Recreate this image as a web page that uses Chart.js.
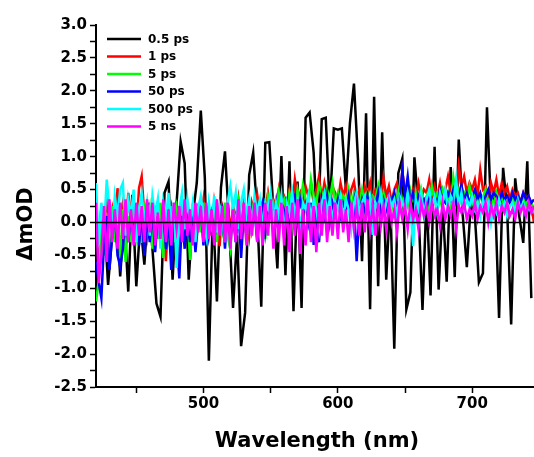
<!DOCTYPE html>
<html>
<head>
<meta charset="utf-8">
<title>Transient absorption spectra</title>
<script src="https://cdn.jsdelivr.net/npm/chart.js@4.4.1/dist/chart.umd.min.js"></script>
<style>
  html, body { margin: 0; padding: 0; background: #ffffff; }
  #wrap { width: 534px; height: 457px; }
</style>
</head>
<body>
<div id="wrap"><canvas id="myChartSpectra" width="534" height="457"></canvas></div>
<script>
"use strict";

// Probe wavelengths (nm) for the 0.5 ps trace
const wavelengths05 = [
  420, 423, 426, 429, 432, 435, 438, 441, 444, 447,
  450, 453, 456, 459, 462, 465, 468, 471, 474, 477,
  480, 483, 486, 489, 492, 495, 498, 501, 504, 507,
  510, 513, 516, 519, 522, 525, 528, 531, 534, 537,
  540, 543, 546, 549, 552, 555, 558, 561, 564, 567,
  570, 573, 576, 579, 582, 585, 588, 591, 594, 597,
  600, 603, 606, 609, 612, 615, 618, 621, 624, 627,
  630, 633, 636, 639, 642, 645, 648, 651, 654, 657,
  660, 663, 666, 669, 672, 675, 678, 681, 684, 687,
  690, 693, 696, 699, 702, 705, 708, 711, 714, 717,
  720, 723, 726, 729, 732, 735, 738, 741, 744
];

// Probe wavelengths (nm) for the later delays
const wavelengths = [
  420, 422, 424, 426, 428, 430, 432, 434, 436, 438,
  440, 442, 444, 446, 448, 450, 452, 454, 456, 458,
  460, 462, 464, 466, 468, 470, 472, 474, 476, 478,
  480, 482, 484, 486, 488, 490, 492, 494, 496, 498,
  500, 502, 504, 506, 508, 510, 512, 514, 516, 518,
  520, 522, 524, 526, 528, 530, 532, 534, 536, 538,
  540, 542, 544, 546, 548, 550, 552, 554, 556, 558,
  560, 562, 564, 566, 568, 570, 572, 574, 576, 578,
  580, 582, 584, 586, 588, 590, 592, 594, 596, 598,
  600, 602, 604, 606, 608, 610, 612, 614, 616, 618,
  620, 622, 624, 626, 628, 630, 632, 634, 636, 638,
  640, 642, 644, 646, 648, 650, 652, 654, 656, 658,
  660, 662, 664, 666, 668, 670, 672, 674, 676, 678,
  680, 682, 684, 686, 688, 690, 692, 694, 696, 698,
  700, 702, 704, 706, 708, 710, 712, 714, 716, 718,
  720, 722, 724, 726, 728, 730, 732, 734, 736, 738,
  740, 742, 744, 746
];

const delayLabels = [`0.5 ps`, `1 ps`, `5 ps`, `50 ps`, `500 ps`, `5 ns`];

// ΔmOD at each delay
const od05ps = [
  -0.3, -0.6, 0.1, -0.95, -0.2, 0.3, -0.82, 0.1, -1.05, 0.42,
  -0.97, 0.0, -0.64, 0.3, -0.4, -1.23, -1.43, 0.45, 0.62, -0.87,
  0.3, 1.23, 0.9, -0.87, 0.1, 0.6, 1.70, 0.68, -2.10, 0.2,
  -1.2, 0.53, 1.08, 0.0, -1.30, -0.2, -1.88, -1.37, 0.72, 1.06,
  0.1, -1.28, 1.21, 1.22, 0.2, -0.70, 1.01, -0.80, 0.93, -1.35,
  0.62, -1.30, 1.59, 1.67, 1.06, -0.3, 1.57, 1.59, 0.2, 1.43,
  1.41, 1.43, 0.5, 1.51, 2.11, 0.96, -0.59, 1.66, -1.32, 1.91,
  -0.97, 1.37, -0.87, 0.4, -1.92, 0.75, 0.97, -1.32, -1.06, 0.99,
  0.2, -1.33, 0.4, -1.11, 1.15, -1.02, 0.3, -0.90, 0.84, -0.83,
  1.26, 0.1, -0.68, 0.3, 0.1, -0.91, -0.77, 1.75, 0.2, 0.4,
  -1.45, 0.83, 0.2, -1.55, 0.67, 0.1, -0.31, 0.93, -1.15
];
const od1ps = [
  0.1, -0.3, 0.25, -0.1, 0.35, 0.0, 0.2, -0.25, 0.52, 0.1,
  0.3, -0.2, 0.45, 0.0, 0.3, -0.15, 0.52, 0.70, 0.1, -0.2,
  0.25, -0.3, 0.15, 0.3, -0.35, 0.2, -0.59, 0.1, 0.25, -0.2,
  0.32, -0.54, 0.15, -0.1, 0.3, 0.0, 0.25, -0.25, 0.2, 0.05,
  0.35, -0.1, 0.2, -0.2, 0.3, 0.0, -0.36, 0.25, 0.1, 0.3,
  -0.15, 0.25, 0.05, 0.35, -0.1, 0.3, 0.1, -0.2, 0.3, 0.15,
  0.42, 0.1, 0.3, 0.2, 0.45, 0.15, 0.35, 0.25, 0.5, 0.2,
  0.4, 0.3, 0.5, 0.25, 0.65, 0.35, 0.45, 0.2, 0.55, 0.4,
  0.57, 0.3, 0.5, 0.7, 0.35, 0.6, 0.4, 0.25, 0.55, 0.45,
  0.3, 0.6, 0.4, 0.55, 0.25, 0.5, 0.62, 0.35, 0.5, 0.3,
  0.55, 0.4, 0.6, 0.3, 0.5, 0.45, 0.25, 0.68, 0.4, 0.55,
  0.3, 0.5, 0.6, 0.35, 0.78, 0.45, 0.55, 0.3, 0.5, 0.4,
  0.6, 0.35, 0.5, 0.45, 0.65, 0.3, 0.55, 0.4, 0.6, 0.35,
  0.5, 0.7, 0.45, 0.6, 0.4, 0.86, 0.55, 0.7, 0.45, 0.6,
  0.5, 0.65, 0.4, 0.8, 0.5, 0.55, 0.35, 0.6, 0.45, 0.65,
  0.4, 0.6, 0.45, 0.55, 0.35, 0.5, 0.4, 0.45, 0.3, 0.45,
  0.35, 0.4, 0.25, 0.0
];
const od5ps = [
  -1.2, -0.9, 0.2, -0.5, 0.1, -0.4, 0.25, -0.3, 0.15, -0.55,
  0.2, -0.6, 0.1, -0.3, 0.25, -0.2, 0.15, -0.31, 0.3, -0.1,
  0.2, -0.4, 0.1, -0.25, 0.3, -0.54, 0.15, -0.2, 0.25, -0.3,
  0.2, -0.1, 0.3, -0.25, 0.15, -0.57, 0.1, -0.2, 0.25, -0.15,
  0.3, -0.2, 0.15, 0.0, 0.25, -0.3, 0.2, -0.1, 0.3, -0.2,
  -0.41, 0.2, 0.0, 0.3, -0.15, 0.25, -0.3, 0.2, 0.1, 0.35,
  -0.2, 0.3, 0.15, -0.25, 0.4, 0.2, 0.3, 0.05, 0.45, 0.25,
  0.35, 0.15, 0.45, 0.3, 0.2, 0.5, 0.3, 0.57, 0.35, 0.25,
  0.65, 0.4, 0.3, 0.57, 0.45, 0.25, 0.5, 0.35, 0.6, 0.3,
  0.45, 0.25, 0.4, 0.3, 0.5, 0.2, 0.45, 0.35, 0.25, 0.5,
  0.3, 0.45, 0.2, 0.4, 0.35, 0.55, 0.25, 0.45, 0.3, 0.4,
  0.2, 0.45, 0.35, 0.55, 0.3, 0.4, 0.25, 0.5, 0.35, 0.45,
  0.25, 0.5, 0.3, 0.4, 0.2, 0.55, 0.35, 0.45, 0.3, 0.5,
  0.35, 0.45, 0.25, 0.68, 0.4, 0.5, 0.3, 0.45, 0.35, 0.55,
  0.3, 0.45, 0.25, 0.4, 0.35, 0.5, 0.3, 0.4, 0.25, 0.45,
  0.3, 0.4, 0.22, 0.35, 0.3, 0.4, 0.25, 0.35, 0.3, 0.4,
  0.25, 0.35, 0.3, 0.2
];
const od50ps = [
  -0.6, -0.9, -1.15, -0.3, 0.1, -0.72, -0.2, 0.15, -0.5, -0.67,
  -0.41, 0.2, -0.3, 0.1, -0.2, 0.25, -0.35, 0.15, -0.5, 0.1,
  -0.3, 0.2, -0.45, 0.1, -0.25, 0.25, -0.4, 0.05, -0.72, 0.15,
  -0.2, -0.85, 0.1, -0.4, 0.2, -0.3, 0.15, -0.45, 0.0, 0.2,
  -0.35, 0.25, -0.2, 0.1, -0.3, 0.2, -0.1, 0.15, -0.4, 0.25,
  -0.25, 0.1, -0.3, 0.2, -0.54, 0.15, -0.2, 0.25, -0.1, 0.2,
  -0.29, 0.15, 0.3, -0.15, 0.2, 0.35, 0.0, 0.3, -0.1, 0.25,
  0.1, 0.3, -0.2, 0.25, 0.4, 0.05, 0.35, 0.15, 0.28, 0.0,
  0.3, -0.34, 0.2, -0.3, 0.35, 0.1, 0.4, 0.0, 0.3, 0.15,
  0.35, 0.1, 0.3, 0.2, 0.4, 0.05, 0.3, -0.59, 0.15, 0.35,
  0.2, 0.4, 0.1, 0.3, 0.25, 0.45, 0.15, 0.35, 0.2, 0.4,
  0.3, 0.45, 0.2, 0.35, 0.78, 0.4, 0.7, 0.3, 0.45, 0.25,
  0.4, 0.3, 0.35, 0.2, 0.45, 0.3, 0.4, 0.25, 0.5, 0.35,
  0.3, 0.45, 0.35, 0.5, 0.3, 0.4, 0.57, 0.35, 0.45, 0.3,
  0.4, 0.5, 0.35, 0.45, 0.3, 0.4, 0.5, 0.35, 0.45, 0.4,
  0.3, 0.45, 0.35, 0.4, 0.3, 0.45, 0.35, 0.4, 0.3, 0.45,
  0.35, 0.4, 0.3, 0.35
];
const od500ps = [
  0.6, -0.34, 0.3, -0.1, 0.65, 0.2, -0.2, 0.4, 0.1, 0.5,
  0.6, -0.2, 0.35, 0.1, 0.5, -0.3, 0.2, 0.45, 0.0, 0.3,
  -0.2, 0.4, 0.1, 0.35, -0.4, 0.3, 0.05, 0.45, -0.1, 0.3,
  -0.69, 0.2, 0.45, -0.1, 0.35, 0.0, 0.3, -0.3, 0.2, 0.4,
  0.1, -0.2, 0.3, 0.0, 0.4, -0.15, 0.25, 0.1, -0.3, 0.3,
  0.55, 0.2, 0.45, -0.1, 0.3, 0.5, 0.1, 0.35, -0.2, 0.4,
  0.15, 0.35, -0.1, 0.3, 0.2, 0.45, 0.0, 0.3, 0.1, 0.4,
  -0.2, 0.3, 0.15, 0.45, 0.1, 0.35, -0.15, 0.3, 0.2, 0.4,
  0.05, 0.35, 0.2, -0.1, 0.3, 0.45, 0.15, 0.35, 0.0, 0.3,
  0.2, 0.4, 0.05, 0.35, 0.2, -0.1, 0.3, 0.45, 0.15, 0.3,
  0.4, 0.1, 0.35, -0.19, 0.3, 0.2, 0.45, 0.1, 0.3, 0.4,
  0.25, 0.35, 0.1, 0.4, 0.3, 0.2, 0.45, 0.25, -0.36, 0.35,
  0.2, 0.45, 0.1, 0.35, 0.5, 0.25, 0.4, 0.15, 0.45, 0.3,
  0.5, 0.2, 0.4, 0.3, 0.65, 0.25, 0.45, 0.2, 0.35, 0.25,
  0.4, 0.2, 0.3, 0.1, 0.35, 0.2, 0.3, 0.0, 0.25, 0.15,
  0.35, 0.2, 0.3, 0.1, 0.25, 0.3, 0.15, 0.35, 0.2, 0.3,
  0.1, 0.25, 0.15, 0.2
];
const od5ns = [
  0.3, -0.92, -0.5, 0.25, -0.6, 0.35, -0.3, 0.2, -0.4, 0.3,
  -0.25, 0.35, -0.3, 0.2, -0.35, 0.3, -0.2, 0.25, -0.3, 0.35,
  -0.15, 0.3, -0.35, 0.15, -0.25, 0.35, -0.3, 0.2, -0.35, 0.3,
  -0.1, 0.25, -0.3, 0.35, -0.2, 0.2, -0.35, 0.3, -0.15, 0.25,
  -0.3, 0.3, -0.25, 0.2, -0.35, 0.35, -0.2, 0.25, -0.3, 0.3,
  -0.4, 0.2, -0.3, 0.35, -0.25, 0.3, -0.35, 0.25, -0.2, 0.3,
  -0.3, 0.25, -0.35, 0.3, -0.2, 0.35, -0.4, 0.2, -0.3, 0.3,
  -0.35, 0.25, -0.45, 0.3, -0.2, 0.35, -0.48, 0.2, -0.35, 0.3,
  -0.3, 0.25, -0.45, 0.3, -0.2, 0.35, -0.3, 0.25, -0.2, 0.3,
  -0.25, 0.35, -0.15, 0.2, -0.3, 0.3, -0.1, 0.25, -0.2, 0.3,
  -0.15, 0.35, -0.1, 0.25, -0.2, 0.3, -0.05, 0.25, -0.1, 0.3,
  0.0, 0.2, -0.15, 0.3, 0.05, 0.25, -0.1, 0.3, 0.05, 0.2,
  -0.1, 0.3, 0.1, 0.25, 0.0, 0.3, 0.1, 0.2, -0.05, 0.3,
  0.05, 0.25, 0.1, 0.3, -0.1, 0.25, 0.15, 0.3, 0.05, 0.2,
  0.1, 0.3, 0.05, 0.25, 0.15, 0.3, 0.0, 0.25, 0.1, 0.3,
  0.05, 0.25, 0.15, 0.3, 0.1, 0.2, 0.05, 0.3, 0.15, 0.25,
  0.1, 0.3, 0.15, 0.25
];

// Axis ticks
const xTickValues = [450, 500, 550, 600, 650, 700];
const xTickLabels = [``, `500`, ``, `600`, ``, `700`];
const yTickValues = [-2.5, -2.25, -2, -1.75, -1.5, -1.25, -1, -0.75, -0.5, -0.25, 0,
  0.25, 0.5, 0.75, 1, 1.25, 1.5, 1.75, 2, 2.25, 2.5, 2.75, 3];
const yTickLabels = [`-2.5`, ``, `-2.0`, ``, `-1.5`, ``, `-1.0`, ``, `-0.5`, ``, `0.0`,
  ``, `0.5`, ``, `1.0`, ``, `1.5`, ``, `2.0`, ``, `2.5`, ``, `3.0`];

const seriesValues = [od05ps, od1ps, od5ps, od50ps, od500ps, od5ns];
const seriesWavelengths = [wavelengths05, wavelengths, wavelengths, wavelengths, wavelengths, wavelengths];
const seriesColors = [`#000000`, `#FF0000`, `#00FF00`, `#0000FF`, `#00FFFF`, `#FF00FF`];

const fontFamily = `"DejaVu Sans", "Liberation Sans", Arial, sans-serif`;

// Zero line, legend and axis titles drawn over the plot
const overlayPlugin = {
  id: `overlay`,
  afterDatasetsDraw(chart) {
    const ctx = chart.ctx;
    const area = chart.chartArea;
    const y0 = chart.scales.y.getPixelForValue(0);
    ctx.save();
    ctx.strokeStyle = `#000000`;
    ctx.lineWidth = 1.5;
    ctx.beginPath();
    ctx.moveTo(area.left, y0);
    ctx.lineTo(area.right, y0);
    ctx.stroke();

    // legend
    ctx.font = `bold 12px ${fontFamily}`;
    ctx.textAlign = `left`;
    ctx.textBaseline = `middle`;
    chart.data.datasets.forEach((ds, i) => {
      const y = 39 + i * 17.5;
      ctx.strokeStyle = ds.borderColor;
      ctx.lineWidth = 2.5;
      ctx.beginPath();
      ctx.moveTo(107, y);
      ctx.lineTo(141, y);
      ctx.stroke();
      ctx.fillStyle = `#000000`;
      ctx.fillText(ds.label, 148, y + 0.5);
    });

    // axis titles
    ctx.font = `bold 21px ${fontFamily}`;
    ctx.textAlign = `center`;
    ctx.fillText(`Wavelength (nm)`, 317, 442);
    ctx.translate(27, 224);
    ctx.rotate(-Math.PI / 2);
    ctx.fillText(`ΔmOD`, 0, 0);
    ctx.restore();
  }
};

const chartCanvas = document.getElementById(`myChartSpectra`).getContext(`2d`);
const spectraChart = new Chart(chartCanvas, {
  // The type of chart we want to create
  type: `line`,
  // The data for our dataset
  data: {
    datasets: delayLabels.map((label, k) => ({
      label: label,
      data: seriesWavelengths[k].map((w, i) => ({ x: w, y: seriesValues[k][i] })),
      borderColor: seriesColors[k],
      backgroundColor: seriesColors[k],
      borderWidth: 2.5,
      pointRadius: 0,
      tension: 0,
      fill: false,
      // later delays are drawn on top
      order: delayLabels.length - k
    }))
  },

  // Configuration options go here
  options: {
    responsive: false,
    animation: false,
    devicePixelRatio: 1,
    layout: { padding: { top: 25, right: 0, bottom: 0, left: 0 } },
    plugins: {
      legend: { display: false },
      tooltip: { enabled: false }
    },
    scales: {
      x: {
        type: `linear`,
        position: `bottom`,
        min: 420,
        max: 746,
        afterBuildTicks: (scale) => {
          scale.ticks = xTickValues.map((v) => ({ value: v }));
        },
        afterFit: (scale) => {
          scale.height = 70;
        },
        grid: {
          drawOnChartArea: false,
          drawTicks: true,
          tickLength: 6,
          tickWidth: 1.5,
          tickColor: `#000000`
        },
        border: { display: true, color: `#000000`, width: 2 },
        ticks: {
          autoSkip: false,
          maxRotation: 0,
          padding: 2,
          color: `#000000`,
          font: { family: fontFamily, size: 15, weight: `bold` },
          callback: (value) => xTickLabels[xTickValues.indexOf(value)]
        }
      },
      y: {
        type: `linear`,
        position: `left`,
        min: -2.5,
        max: 3.0,
        afterBuildTicks: (scale) => {
          scale.ticks = yTickValues.map((v) => ({ value: v }));
        },
        afterFit: (scale) => {
          scale.width = 96;
        },
        grid: {
          drawOnChartArea: false,
          drawTicks: true,
          tickLength: 6,
          tickWidth: 1.5,
          tickColor: `#000000`
        },
        border: { display: true, color: `#000000`, width: 2 },
        ticks: {
          autoSkip: false,
          padding: 3,
          color: `#000000`,
          font: { family: fontFamily, size: 15, weight: `bold` },
          callback: (value) => yTickLabels[yTickValues.indexOf(value)]
        }
      }
    }
  },
  plugins: [overlayPlugin]
});
</script>
</body>
</html>
